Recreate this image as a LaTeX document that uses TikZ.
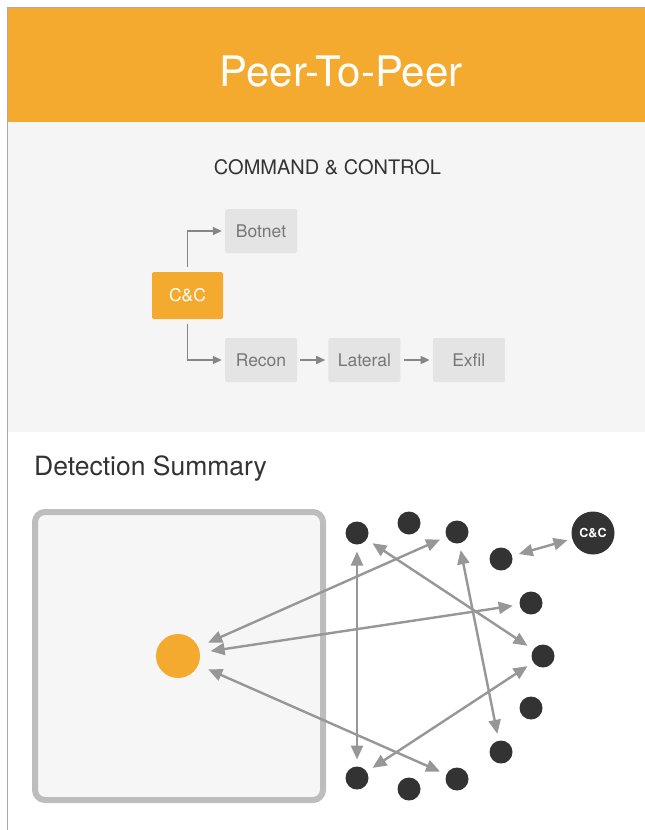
\documentclass[tikz,border=0pt]{standalone}
\usepackage{fontspec}
\setmainfont{TeX Gyre Heros}
\usetikzlibrary{positioning, arrows.meta}

\definecolor{p2porange}{HTML}{F4AA2F}
\definecolor{panelgray}{HTML}{F5F5F5}
\definecolor{boxgray}{HTML}{E4E4E4}
\definecolor{textgray}{HTML}{777777}
\definecolor{linegray}{HTML}{868686}
\definecolor{arrowgray}{HTML}{979797}
\definecolor{framegray}{HTML}{BDBDBD}
\definecolor{framefill}{HTML}{F6F6F6}
\definecolor{dotdark}{HTML}{333333}
\definecolor{edgegray}{HTML}{ABABAB}

\tikzset{
  stage/.style={fill=boxgray, text=textgray, rounded corners=1.5pt,
    minimum width=72pt, minimum height=44pt, inner sep=0pt,
    font=\fontsize{17.5}{17.5}\selectfont},
  origin/.style={stage, fill=p2porange, text=white,
    minimum width=71pt, minimum height=47pt},
  flow/.style={-{Triangle[length=9pt,width=8pt]}, linegray, line width=1.7pt,
    shorten >=3pt, shorten <=3pt},
  peer/.style={circle, fill=dotdark, minimum size=23pt, inner sep=0pt,
    outer sep=7pt},
  host/.style={circle, fill=p2porange, minimum size=44pt, inner sep=0pt,
    outer sep=11pt},
  link/.style={{Triangle[length=14pt,width=12pt]}-{Triangle[length=14pt,width=12pt]},
    arrowgray, line width=2.4pt},
}

\begin{document}
\begin{tikzpicture}[x=1pt, y=-1pt]

% Page size
\useasboundingbox (0, 0) rectangle (645, 830);
\fill[white] (0, 0) rectangle (645, 830);

% Header and panel
\fill[p2porange] (8, 8) rectangle (645, 122);
\fill[panelgray] (8, 122) rectangle (645, 432);
\draw[edgegray, line width=1.5pt] (645, 7.5) -- (7.5, 7.5) -- (7.5, 830);
\node[text=white, font=\fontsize{42}{42}\selectfont] (title) at (341, 72) {Peer-To-Peer};

% Command and control chain
\node[text=dotdark, font=\fontsize{20}{20}\selectfont] (heading) at (327.5, 167) {COMMAND \& CONTROL};
\node[origin] (cc) at (187.5, 295.5) {C\&C};
\node[stage] (botnet) at (261, 231) {Botnet};
\node[stage] (recon) at (261, 360) {Recon};
\node[stage, right=31pt of recon] (lateral) {Lateral};
\node[stage, right=32pt of lateral] (exfil) {Exfil};

\draw[flow, shorten <=5pt] (cc.north) |- (botnet.west);
\draw[flow, shorten <=5pt] (cc.south) |- (recon.west);
\draw[flow] (recon) -- (lateral);
\draw[flow] (lateral) -- (exfil);

% Detection summary
\node[anchor=base west, text=dotdark, inner sep=0pt, font=\fontsize{26.5}{26.5}\selectfont] (summary) at (34, 475) {Detection Summary};
\draw[framegray, fill=framefill, line width=6pt, rounded corners=10pt] (35, 512) rectangle (323, 800);
\node[host] (infected) at (178, 656) {};

% Peers
\node[peer] (p1) at (357, 533) {};
\node[peer] (p2) at (409, 523) {};
\node[peer] (p3) at (457, 532) {};
\node[peer] (p4) at (501, 559) {};
\node[peer] (p5) at (531, 603) {};
\node[peer] (p6) at (543, 656) {};
\node[peer] (p7) at (531, 708) {};
\node[peer] (p8) at (501, 752) {};
\node[peer] (p9) at (457, 779) {};
\node[peer] (p10) at (409, 789) {};
\node[peer] (p11) at (357, 778) {};
\node[peer, minimum size=43pt, outer sep=5pt, text=white, font=\bfseries\fontsize{12.5}{12.5}\selectfont] (server) at (593, 533) {C\&C};

% Peer traffic
\draw[link] (p4) -- (server);
\draw[link] (infected) -- (p3);
\draw[link] (infected) -- (p5);
\draw[link] (infected) -- (p9);
\draw[link] (p1) -- (p11);
\draw[link] (p1) -- (p6);
\draw[link] (p3) -- (p8);
\draw[link] (p6) -- (p11);

\end{tikzpicture}
\end{document}
